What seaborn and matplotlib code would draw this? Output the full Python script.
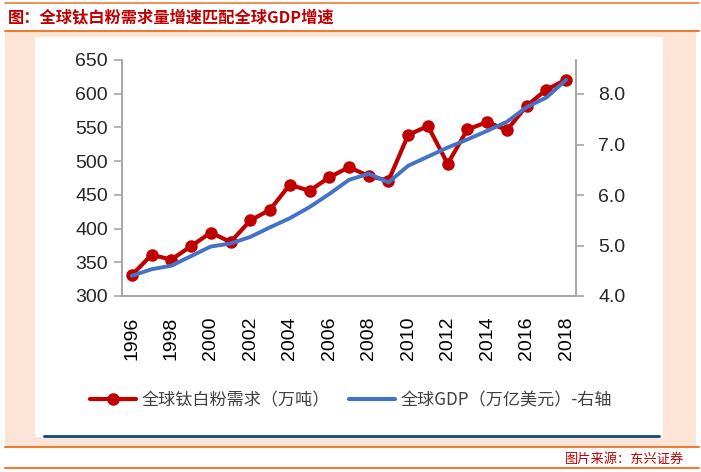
import matplotlib
matplotlib.use("Agg")
import matplotlib.pyplot as plt
import seaborn as sns
import pandas as pd
from matplotlib.patches import Rectangle
from matplotlib.lines import Line2D

years = list(range(1996, 2019))
tio2_demand = [331, 361, 354, 374, 394, 380, 412, 428, 465, 456, 476, 491, 478, 471,
               539, 552, 496, 547, 558, 546, 582, 606, 621]
global_gdp = [4.40, 4.53, 4.60, 4.79, 4.98, 5.04, 5.17, 5.36, 5.54, 5.76, 6.02, 6.30,
              6.42, 6.25, 6.58, 6.76, 6.94, 7.10, 7.27, 7.45, 7.74, 7.93, 8.28]
left_ticks = [300, 350, 400, 450, 500, 550, 600, 650]
right_ticks = [4.0, 5.0, 6.0, 7.0, 8.0]

title_text = "图：全球钛白粉需求量增速匹配全球GDP增速"
source_text = "图片来源：东兴证券"
label_red = "全球钛白粉需求（万吨）"
label_blue = "全球GDP（万亿美元）-右轴"

sns.set_style("white")
plt.rcParams['font.family'] = ['Noto Sans CJK SC', 'DejaVu Sans']

W, H = 701, 472
fig = plt.figure(figsize=(W / 100, H / 100), dpi=100)
fig.patch.set_facecolor("white")

def fx(x):
    return x / W

def fy(y):
    return 1 - y / H

def rect(x0, y0, x1, y1, color, z=-10):
    fig.patches.append(Rectangle((fx(x0), fy(y1)), fx(x1) - fx(x0), fy(y0) - fy(y1),
                                 transform=fig.transFigure, facecolor=color,
                                 edgecolor="none", zorder=z))

def hline(y, x0, x1, color, lw):
    fig.lines.append(Line2D([fx(x0), fx(x1)], [fy(y), fy(y)], transform=fig.transFigure,
                            color=color, linewidth=lw, zorder=-5))

peach = "#FDE4D6"
orange = "#ED7D31"
red = "#C00000"
blue = "#4472C4"

rect(5, 31, 696, 447, peach)
rect(35, 37, 663, 437, "white", z=-9)
hline(3, 5, 699, orange, 1.2)
hline(30.5, 5, 699, orange, 1.5)
hline(447, 5, 699, orange, 1.5)
hline(468, 5, 699, orange, 1.5)
hline(435.5, 44, 659, "#0B4A7E", 2.0)

fig.text(fx(8), fy(17), title_text, color=red, fontsize=11.7, fontweight="bold",
         va="center", ha="left")
fig.text(fx(684), fy(459), source_text, color=red, fontsize=9.5, va="center", ha="right")

ax = fig.add_axes([fx(122), fy(296), fx(576) - fx(122), fy(60) - fy(296)])
ax.set_facecolor("none")
df = pd.DataFrame({"idx": list(range(len(years))), "demand": tio2_demand, "gdp": global_gdp})

sns.lineplot(data=df, x="idx", y="demand", ax=ax, color=red, linewidth=3.0,
             marker="o", markersize=9, markeredgecolor=red, markeredgewidth=0)
ax.set_xlim(-0.5, len(years) - 0.5)
ax.set_ylim(300, 650)
ax.set_yticks(left_ticks)
ax.set_yticklabels([str(t) for t in left_ticks], family="Liberation Sans", fontsize=14)
ax.set_xticks([i for i in range(len(years)) if i % 2 == 0])
ax.set_xticklabels([str(years[i]) for i in range(len(years)) if i % 2 == 0],
                   rotation=90, family="Liberation Sans", fontsize=14)
ax.set_xticks([i - 0.5 for i in range(len(years) + 1)], minor=True)
ax.tick_params(axis="x", which="major", length=0, pad=15, colors="black")
ax.tick_params(axis="x", which="minor", length=6, width=1.2, color="#A6A6A6", direction="out")
ax.tick_params(axis="y", length=6, width=1.2, color="#A6A6A6", direction="out", pad=4)
ax.set_xlabel("")
ax.set_ylabel("")
for s in ["top", "right"]:
    ax.spines[s].set_visible(False)
for s in ["left", "bottom"]:
    ax.spines[s].set_color("#A6A6A6")
    ax.spines[s].set_linewidth(1.4)

ax2 = ax.twinx()
sns.lineplot(data=df, x="idx", y="gdp", ax=ax2, color=blue, linewidth=2.8)
ax2.set_ylim(4.0, 4.0 + 236 / 50.5)
ax2.set_yticks(right_ticks)
ax2.set_yticklabels([f"{t:.1f}" for t in right_ticks], family="Liberation Sans", fontsize=14)
ax2.tick_params(axis="y", length=6, width=1.2, color="#A6A6A6", direction="out", pad=10)
ax2.set_ylabel("")
for s in ["top", "left", "bottom"]:
    ax2.spines[s].set_visible(False)
ax2.spines["right"].set_color("#A6A6A6")
ax2.spines["right"].set_linewidth(1.4)

h_red = Line2D([], [], color=red, linewidth=3.0, marker="o", markersize=9, markeredgewidth=0)
h_blue = Line2D([], [], color=blue, linewidth=3.0)
leg = fig.legend([h_red, h_blue], [label_red, label_blue], loc="center",
                 bbox_to_anchor=(fx(351), fy(400)), ncol=2, frameon=False,
                 fontsize=12.3, handlelength=2.7, columnspacing=1.1, handletextpad=0.35)
for t in leg.get_texts():
    t.set_color("#404040")

fig.savefig("out.png", dpi=100)
